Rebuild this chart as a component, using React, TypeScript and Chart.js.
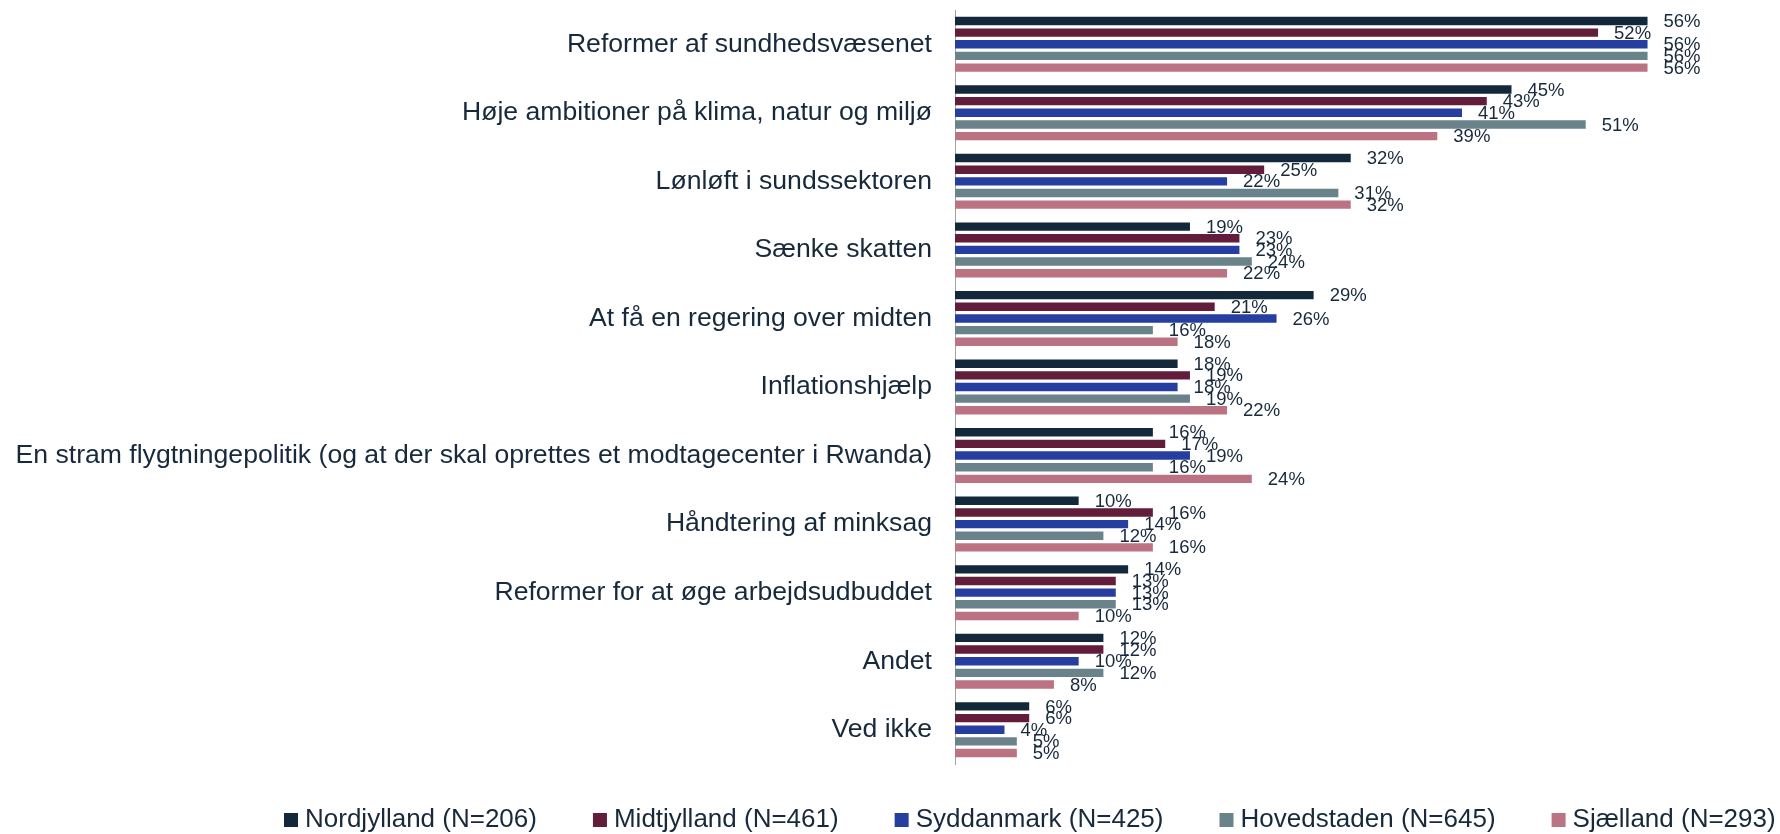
import React, { useEffect, useRef } from "react";
import { Chart, registerables } from "chart.js";

Chart.register(...registerables);

const categories = [
  "Reformer af sundhedsvæsenet",
  "Høje ambitioner på klima, natur og miljø",
  "Lønløft i sundssektoren",
  "Sænke skatten",
  "At få en regering over midten",
  "Inflationshjælp",
  "En stram flygtningepolitik (og at der skal oprettes et modtagecenter i Rwanda)",
  "Håndtering af minksag",
  "Reformer for at øge arbejdsudbuddet",
  "Andet",
  "Ved ikke",
];

const seriesNames = [
  "Nordjylland (N=206)",
  "Midtjylland (N=461)",
  "Syddanmark (N=425)",
  "Hovedstaden (N=645)",
  "Sjælland (N=293)",
];

const nordjylland = [56, 45, 32, 19, 29, 18, 16, 10, 14, 12, 6];
const midtjylland = [52, 43, 25, 23, 21, 19, 17, 16, 13, 12, 6];
const syddanmark = [56, 41, 22, 23, 26, 18, 19, 14, 13, 10, 4];
const hovedstaden = [56, 51, 31, 24, 16, 19, 16, 12, 13, 12, 5];
const sjaelland = [56, 39, 32, 22, 18, 22, 24, 16, 10, 8, 5];

const seriesValues = [nordjylland, midtjylland, syddanmark, hovedstaden, sjaelland];
const seriesColors = ["#13283b", "#621d3b", "#263e9f", "#6a8289", "#bb7282"];

const FONT = '"Liberation Sans", Arial, sans-serif';
const TEXT_COLOR = "#17293b";

const dataLabelPlugin = {
  id: "dataLabels",
  afterDatasetsDraw(chart: any) {
    const ctx = chart.ctx;
    ctx.save();
    ctx.font = `18.5px ${FONT}`;
    ctx.fillStyle = TEXT_COLOR;
    ctx.textAlign = "left";
    ctx.textBaseline = "middle";
    chart.data.datasets.forEach((ds: any, di: number) => {
      const meta = chart.getDatasetMeta(di);
      meta.data.forEach((el: any, i: number) => {
        ctx.fillText(`${ds.data[i]}%`, el.x + 16, el.y + 1);
      });
    });
    ctx.restore();
  },
};

const legendPlugin = {
  id: "customLegend",
  afterDraw(chart: any) {
    const ctx = chart.ctx;
    ctx.save();
    ctx.font = `26px ${FONT}`;
    ctx.textBaseline = "middle";
    ctx.textAlign = "left";
    let x = 284;
    const cy = 820;
    chart.data.datasets.forEach((ds: any) => {
      ctx.fillStyle = ds.backgroundColor;
      ctx.fillRect(x, cy - 7, 14, 14);
      ctx.fillStyle = TEXT_COLOR;
      ctx.fillText(ds.label, x + 21, cy);
      const w = ctx.measureText(ds.label).width;
      x += 21 + w + 56;
    });
    ctx.restore();
  },
};

export default function App() {
  const canvasRef = useRef<HTMLCanvasElement | null>(null);

  useEffect(() => {
    if (!canvasRef.current) return;
    const chart = new Chart(canvasRef.current, {
      type: "bar",
      data: {
        labels: categories,
        datasets: seriesNames.map((name, i) => ({
          label: name,
          data: seriesValues[i],
          backgroundColor: seriesColors[i],
          borderWidth: 0,
          barPercentage: 0.72,
          categoryPercentage: 0.85,
        })),
      },
      options: {
        indexAxis: "y",
        responsive: false,
        animation: false,
        devicePixelRatio: 1,
        layout: { padding: { top: 10, bottom: 70, left: 0, right: 83 } },
        plugins: {
          legend: { display: false },
          tooltip: { enabled: false },
        },
        scales: {
          x: {
            display: false,
            min: 0,
            max: 60,
          },
          y: {
            afterFit(scale: any) {
              scale.width = 955;
              scale.paddingTop = 0;
              scale.paddingBottom = 0;
            },
            grid: { display: false, drawTicks: false },
            border: { display: true, color: "#a3a3a3", width: 1 },
            ticks: {
              autoSkip: false,
              padding: 23,
              color: TEXT_COLOR,
              font: { family: FONT, size: 26.6 },
            },
          },
        },
      },
      plugins: [dataLabelPlugin, legendPlugin],
    });
    return () => chart.destroy();
  }, []);

  return (
    <div style={{ position: "absolute", left: 0, top: 0, width: 1780, height: 834, background: "#fff" }}>
      <canvas ref={canvasRef} width={1780} height={834} style={{ width: 1780, height: 834 }} />
    </div>
  );
}
